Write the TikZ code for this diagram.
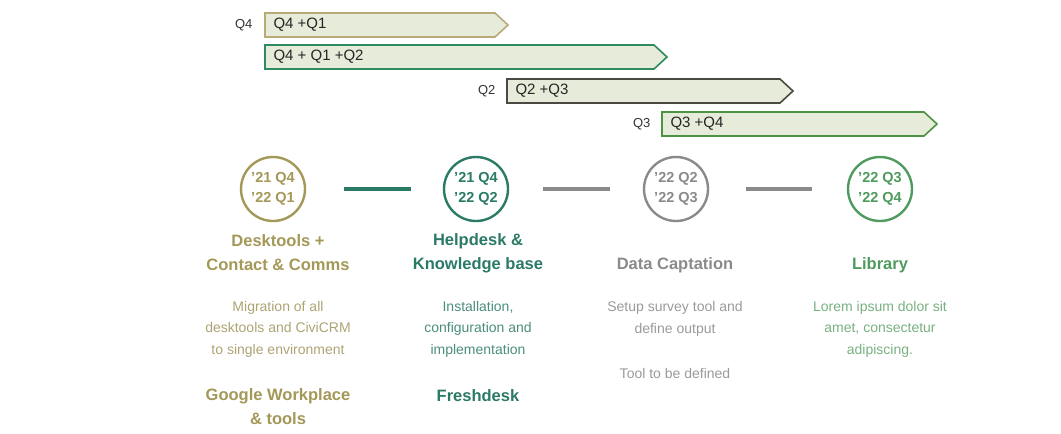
\documentclass[tikz,border=0pt]{standalone}
\usepackage{fontspec}
\setmainfont{Liberation Sans}

\definecolor{olive}{HTML}{A39858}
\definecolor{olivelight}{HTML}{ADA374}
\definecolor{teal}{HTML}{2B7A66}
\definecolor{greyish}{HTML}{8A8A8A}
\definecolor{greylight}{HTML}{9A9A9A}
\definecolor{leaf}{HTML}{4F9A5E}
\definecolor{leaflight}{HTML}{78B080}
\definecolor{barfill}{HTML}{E6EBDA}
\definecolor{barA}{HTML}{B8AB78}
\definecolor{barB}{HTML}{2E8A60}
\definecolor{barC}{HTML}{4A4A40}
\definecolor{barD}{HTML}{4C9443}

\tikzset{
  qbar/.style={fill=barfill, line width=1.6pt, line join=miter},
  qbartext/.style={anchor=west, font=\fontsize{15}{17}\selectfont, text=black!85},
  qlabel/.style={anchor=east, font=\fontsize{13}{15}\selectfont, text=black!80},
  milestone/.style={circle, line width=2.4pt, minimum size=64pt, inner sep=0pt,
    align=center, font=\bfseries\fontsize{14.5}{20}\selectfont},
  link/.style={line width=3.6pt},
  headline/.style={align=center, font=\bfseries\fontsize{16.5}{24}\selectfont},
  descr/.style={align=center, font=\fontsize{14}{21.5}\selectfont},
}

\begin{document}
\begin{tikzpicture}[x=1pt, y=-1pt]
  \useasboundingbox (0,0) rectangle (1061,434);

  % quarter bars
  \draw[qbar, draw=barA] (265,13) -- (495,13) -- (508,25) -- (495,37) -- (265,37) -- cycle;
  \node[qbartext] (barone) at (270,25) {Q4 +Q1};
  \node[qlabel] (qfour) at (256,25) {Q4};

  \draw[qbar, draw=barB] (265,45) -- (654,45) -- (667,57) -- (654,69) -- (265,69) -- cycle;
  \node[qbartext] (bartwo) at (270,57) {Q4 + Q1 +Q2};

  \draw[qbar, draw=barC] (507,79) -- (780,79) -- (793,91) -- (780,103) -- (507,103) -- cycle;
  \node[qbartext] (barthree) at (512,91) {Q2 +Q3};
  \node[qlabel] (qtwo) at (499,91) {Q2};

  \draw[qbar, draw=barD] (662,112) -- (924,112) -- (937,124) -- (924,136) -- (662,136) -- cycle;
  \node[qbartext] (barfour) at (667,124) {Q3 +Q4};
  \node[qlabel] (qthree) at (654,124) {Q3};

  % milestones
  \node[milestone, draw=olive, text=olive] (desk) at (273,189) {'21 Q4\\'22 Q1};
  \node[milestone, draw=teal, text=teal] (help) at (476,189) {'21 Q4\\'22 Q2};
  \node[milestone, draw=greyish, text=greyish] (data) at (676,189) {'22 Q2\\'22 Q3};
  \node[milestone, draw=leaf, text=leaf] (lib) at (880,189) {'22 Q3\\'22 Q4};

  \draw[link, teal] (344,189) -- (411,189);
  \draw[link, greyish] (543,189) -- (610,189);
  \draw[link, greyish] (746,189) -- (812,189);

  % titles
  \node[headline, text=olive] (desktitle) at (278,253) {Desktools +\\Contact \& Comms};
  \node[headline, text=teal] (helptitle) at (478,253) {Helpdesk \&\\Knowledge base};
  \node[headline, text=greyish] (datatitle) at (675,265) {Data Captation};
  \node[headline, text=leaf] (libtitle) at (880,265) {Library};

  % descriptions
  \node[descr, text=olivelight] (deskdescr) at (278,329) {Migration of all\\desktools and CiviCRM\\to single environment};
  \node[descr, text=teal!85] (helpdescr) at (478,329) {Installation,\\configuration and\\implementation};
  \node[descr, text=greylight] (datadescr) at (675,319) {Setup survey tool and\\define output};
  \node[descr, text=greylight] (datatool) at (675,373) {Tool to be defined};
  \node[descr, text=leaflight] (libdescr) at (880,329) {Lorem ipsum dolor sit\\amet, consectetur\\adipiscing.};

  % tools
  \node[headline, text=olive] (desktool) at (278,407) {Google Workplace\\\& tools};
  \node[headline, text=teal] (helptool) at (478,396) {Freshdesk};
\end{tikzpicture}
\end{document}
